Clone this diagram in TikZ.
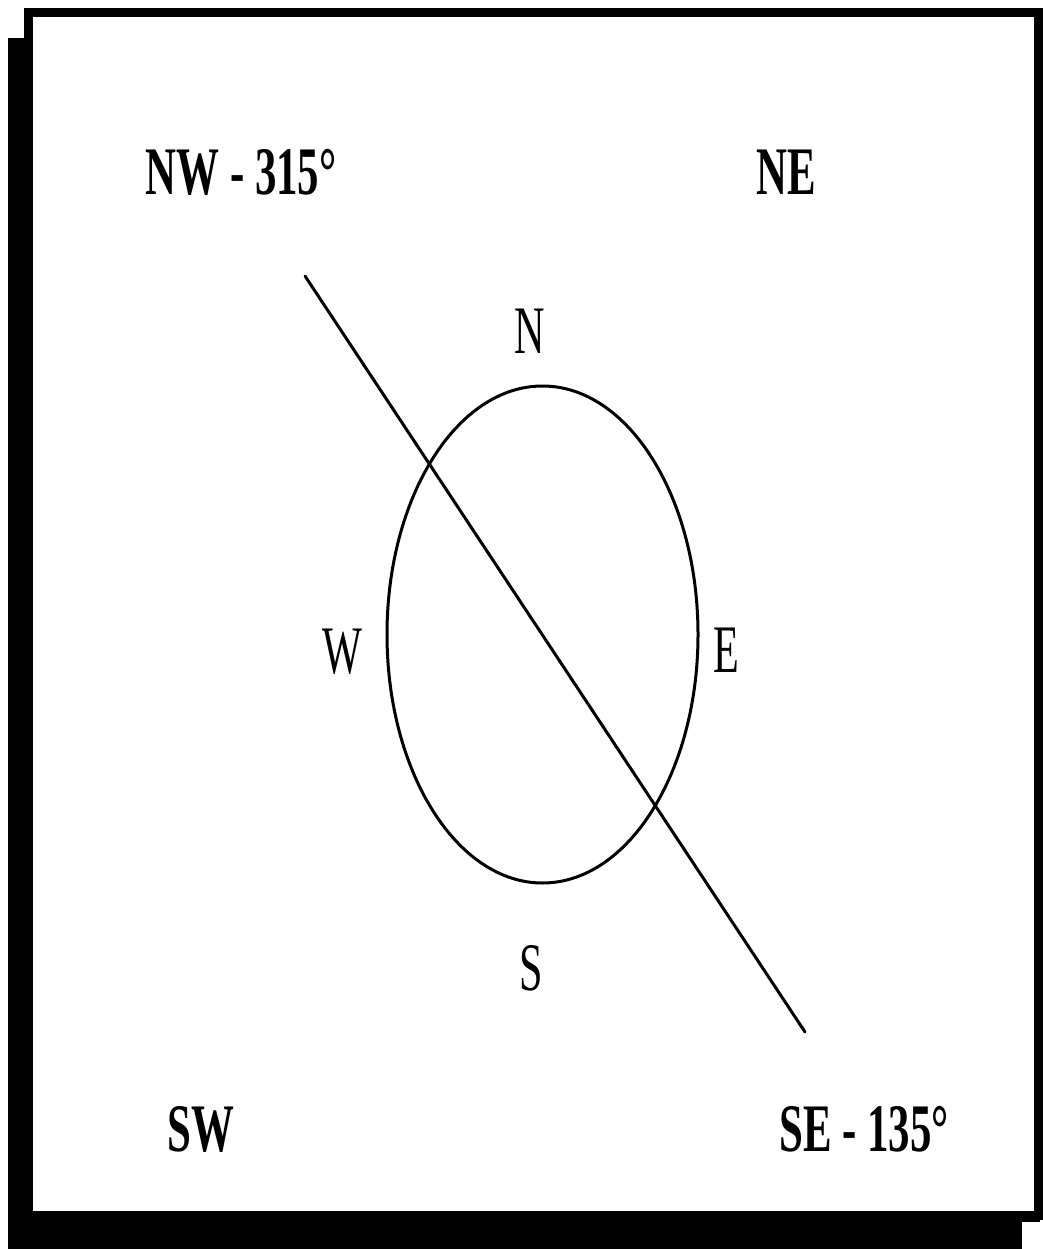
\documentclass[tikz,border=0pt]{standalone}
\usepackage{fontspec}
\setmainfont{Liberation Serif}
\usepackage{graphicx}
\begin{document}
\begin{tikzpicture}[x=1pt,y=-1pt,
  lbl/.style={inner sep=0pt,anchor=base,font=\fontsize{68}{80}\selectfont},
  blbl/.style={lbl,font=\fontsize{68}{80}\selectfont\bfseries},
  thin line/.style={line width=3pt,line cap=round}]
\useasboundingbox (0,0) rectangle (1043,1249);
\fill[white] (0,0) rectangle (1043,1249);
% shadow
\fill[black] (8,38) rectangle (32,1249);
\fill[black] (8,1212) rectangle (1022,1249);
\fill[black] (1022,1212) rectangle (1040,1222);
% frame
\draw[line width=9pt] (28,13) rectangle (1038,1215);
% compass
\coordinate (c) at (542.5,634.5);
\draw[line width=3pt] (c) ellipse [x radius=155.5, y radius=248.5];
\coordinate (nwend) at (305,276);
\coordinate (seend) at (805,1032);
\draw[thin line] (nwend) -- (seend);
% labels
\node[lbl] (n) at (530,353) {\scalebox{0.62}[1]{N}};
\node[lbl] (w) at (342.5,673) {\scalebox{0.62}[1]{W}};
\node[lbl] (e) at (726.5,672) {\scalebox{0.62}[1]{E}};
\node[lbl] (s) at (531,990) {\scalebox{0.62}[1]{S}};
\node[blbl] (nw) at (241,195) {\scalebox{0.63}[1]{NW - 315°}};
\node[blbl] (ne) at (786,195) {\scalebox{0.63}[1]{NE}};
\node[blbl] (sw) at (201,1151) {\scalebox{0.63}[1]{SW}};
\node[blbl] (se) at (864,1151) {\scalebox{0.63}[1]{SE - 135°}};
\end{tikzpicture}
\end{document}
